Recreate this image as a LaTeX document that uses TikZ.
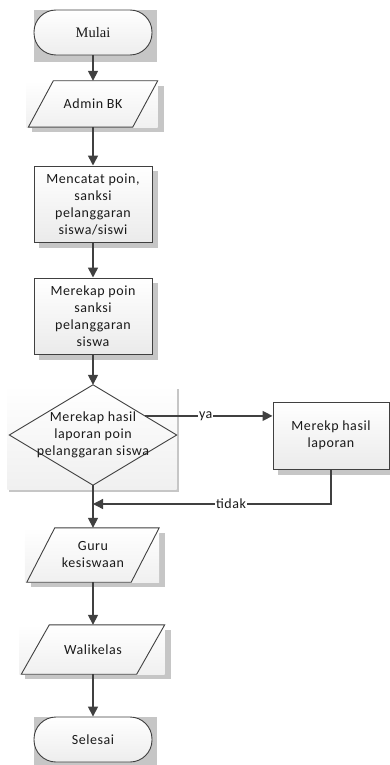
\documentclass[tikz,border=0pt]{standalone}
\usepackage{fontspec}
\setmainfont{Carlito}[LetterSpace=4]
\newfontfamily\serifface{Liberation Serif}
\usetikzlibrary{arrows.meta,calc,backgrounds}
\definecolor{ink}{HTML}{404040}
\definecolor{txt}{HTML}{1A1A1A}
\definecolor{shade}{HTML}{C6C6C6}
\definecolor{panel}{HTML}{F0F0F0}
\begin{document}
\begin{tikzpicture}[x=1pt,y=-1pt,
  every node/.style={font=\fontsize{14}{17}\selectfont, text=txt, align=center},
  term/.style={draw=ink, line width=0.9pt, rounded corners=22pt, inner sep=0pt,
    minimum width=118pt, minimum height=45pt, top color=white, bottom color=gray!14},
  proc/.style={draw=ink, line width=1pt, inner sep=0pt,
    top color=white, bottom color=gray!16},
  slot/.style={inner sep=0pt},
  flow/.style={draw=ink, line width=1.6pt, -{Triangle[length=10pt,width=10pt]}},
  tag/.style={fill=white, inner sep=1pt},
  shadowfill/.style={fill=shade},
  panelfill/.style={top color=white, bottom color=panel},
  shapefill/.style={draw=ink, line width=0.9pt, top color=white, bottom color=gray!12}
]
\useasboundingbox (0,0) rectangle (390,765);

% terminators
\node[term, font=\serifface\fontsize{14.5}{17}\selectfont] (start) at (93,32.5) {Mulai};
\node[term] (stop) at (93,739.5) {Selesai};

% input / output (text only, outlines drawn behind)
\node[slot, minimum width=129pt, minimum height=46pt] (admin) at (93,104) {Admin BK};
\node[slot, minimum width=132pt, minimum height=54pt] (guru) at (93,555) {Guru\\kesiswaan};
\node[slot, minimum width=143pt, minimum height=49pt] (wali) at (93,649.5) {Walikelas};

% processes
\node[proc, minimum width=118pt, minimum height=76pt] (catat) at (93,204)
  {Mencatat poin,\\sanksi\\pelanggaran\\siswa/siswi};
\node[proc, minimum width=118pt, minimum height=76pt] (rekap) at (93,316)
  {Merekap poin\\sanksi\\pelanggaran\\siswa};
\node[proc, minimum width=116pt, minimum height=67pt] (hasil) at (331,435.5)
  {Merekp hasil\\laporan};

% decision
\node[slot, minimum width=167pt, minimum height=100pt] (cek) at (93,435)
  {Merekap hasil\\laporan poin\\pelanggaran siswa};

\begin{pgfonlayer}{background}
  % terminator backdrops
  \foreach \t in {start,stop}
    \fill[shadowfill] (\t.north west) rectangle ($(\t.south east)+(5,7)$);
  % process shadows
  \foreach \p in {catat,rekap,hasil}
    \fill[shadowfill] ($(\p.north west)+(5,5)$) rectangle ($(\p.south east)+(5,5)$);
  % parallelograms with their panels
  \foreach \io/\s in {admin/25,guru/28,wali/28}{
    \fill[shadowfill] ($(\io.north west)+(4,5)$) rectangle ($(\io.south east)+(6,5)$);
    \fill[panelfill] ($(\io.north west)+(-2,0)$) rectangle (\io.south east);
    \draw[shapefill] ($(\io.north west)+(\s,0)$) -- (\io.north east)
      -- ($(\io.south east)+(-\s,0)$) -- (\io.south west) -- cycle;
  }
  % decision diamond with its panel
  \fill[shadowfill] ($(cek.north west)+(0,4)$) rectangle ($(cek.south east)+(2,7)$);
  \fill[panelfill] ($(cek.north west)+(-2,0)$) rectangle ($(cek.south east)+(0,4)$);
  \draw[shapefill] (cek.north) -- (cek.east) -- (cek.south) -- (cek.west) -- cycle;
\end{pgfonlayer}

% connectors
\draw[flow] (start.south) -- (admin.north);
\draw[flow] (admin.south) -- (catat.north);
\draw[flow] (catat.south) -- (rekap.north);
\draw[flow] (rekap.south) -- (cek.north);
\coordinate (yes) at ($(cek.north)!0.62!(cek.east)$);
\draw[flow, line width=1.3pt] (yes) -- (yes -| hasil.west) node[tag, midway, xshift=-3pt] {ya};
\coordinate (join) at (93,504);
\draw[flow] (cek.south) -- (guru.north);
\draw[flow, line width=1.3pt] (hasil.south) |- (join) node[tag, pos=0.71] {tidak};
\draw[flow] (guru.south) -- (wali.north);
\draw[flow] (wali.south) -- (stop.north);
\end{tikzpicture}
\end{document}
